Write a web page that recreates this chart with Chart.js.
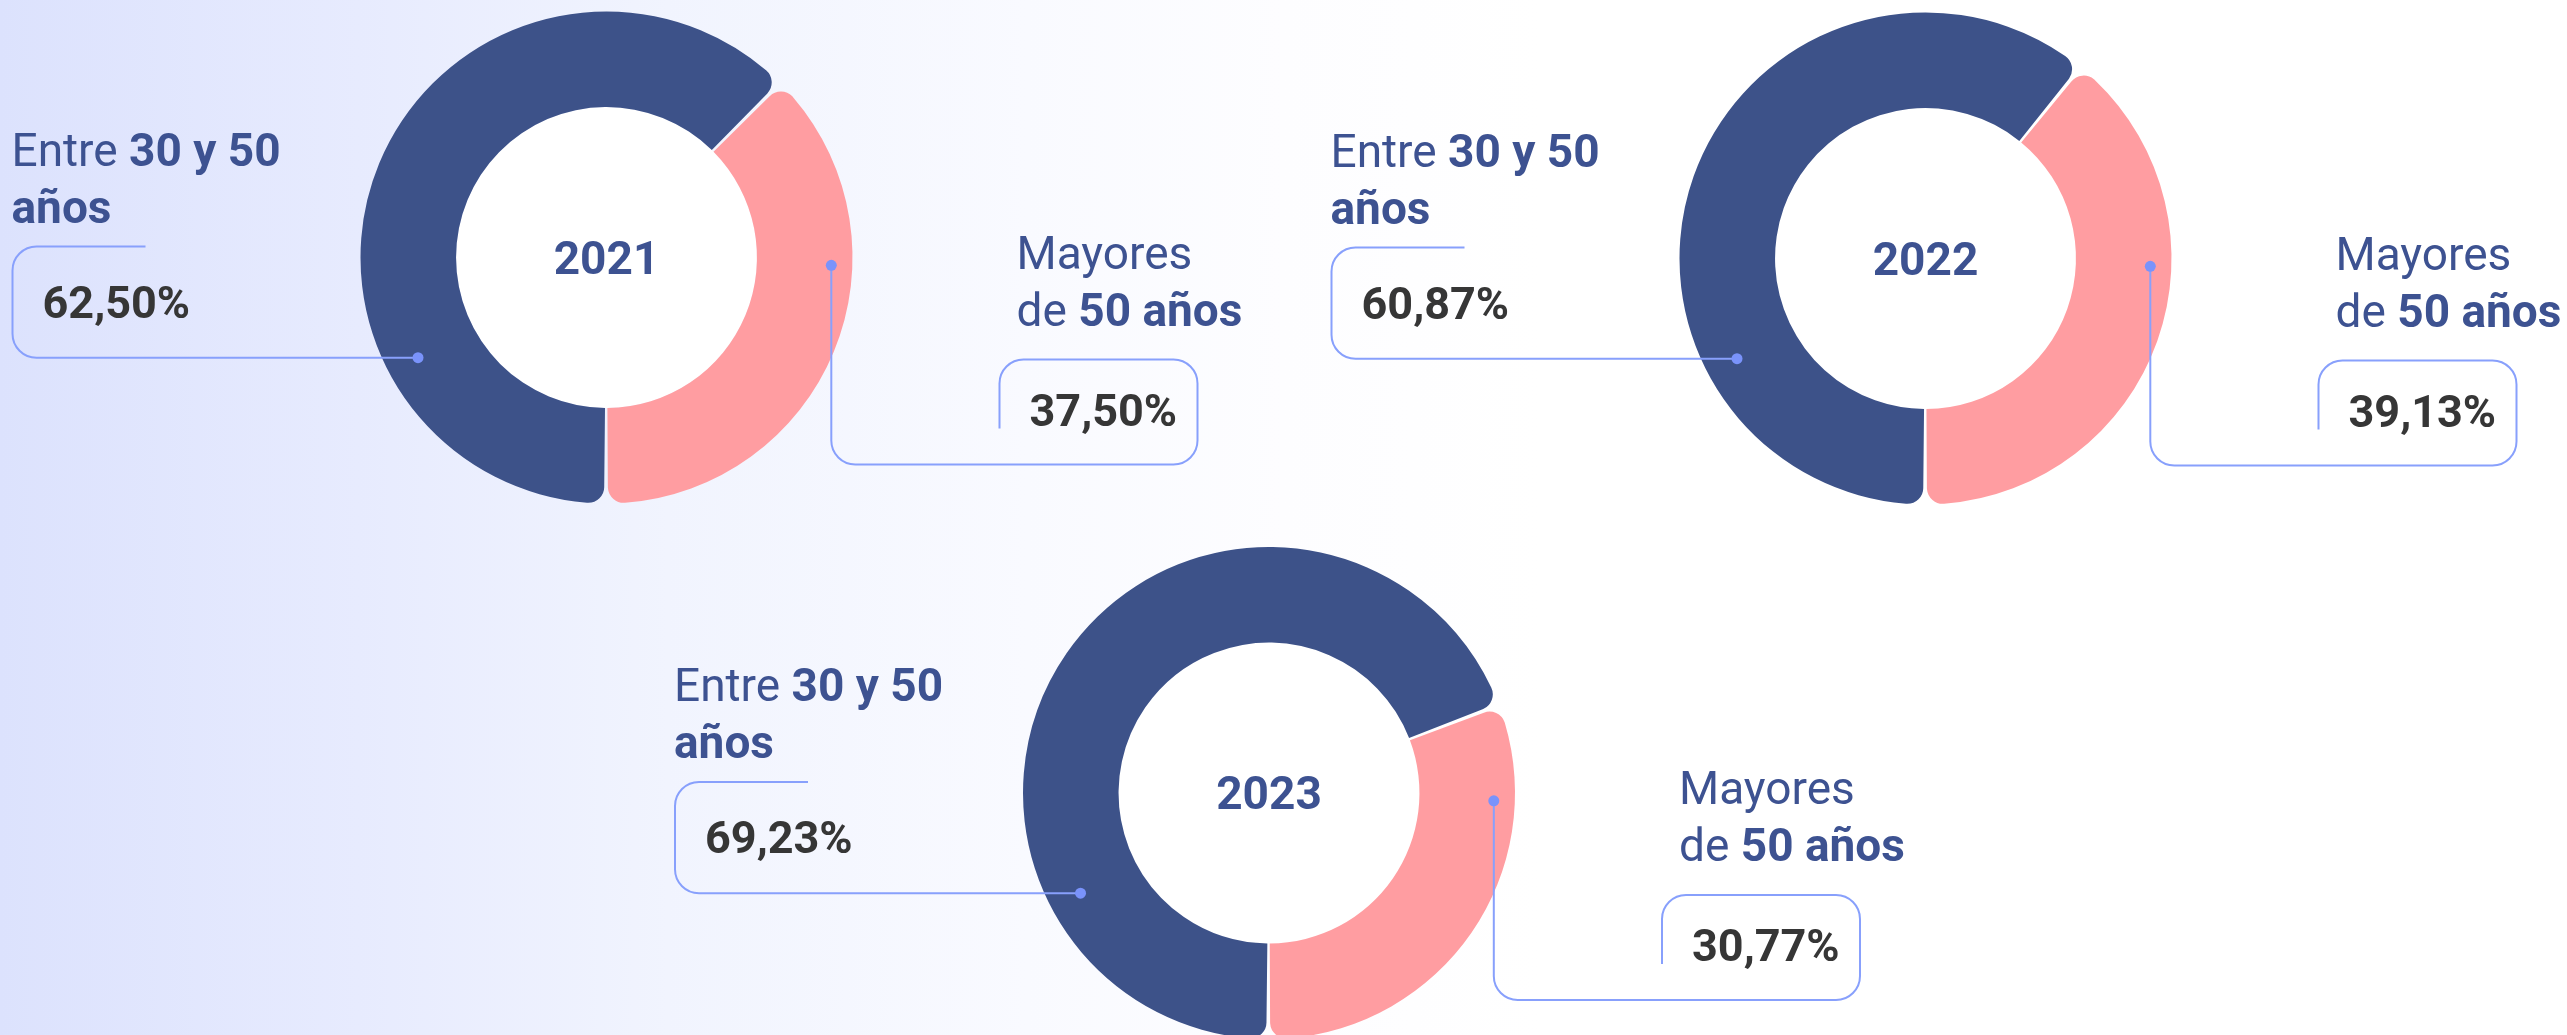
<!DOCTYPE html>
<html lang="es">
<head>
<meta charset="utf-8">
<title>Distribución por edad 2021-2023</title>
<script src="https://cdn.jsdelivr.net/npm/chart.js@4.4.1/dist/chart.umd.min.js"></script>
<style>
  html, body { margin: 0; padding: 0; }
  body {
    width: 2567px; height: 1035px; overflow: hidden; position: relative;
    background: linear-gradient(90deg, #dce2fd 0%, #e7ebfe 14%, #f1f4fe 26%, #f9faff 40%, #fdfdff 50%, #ffffff 60%);
    font-family: Roboto, "Noto Sans", "Liberation Sans", sans-serif;
  }
  .panel { position: absolute; }
  .panel canvas { position: absolute; left: 0; top: 0; }
  .lbl {
    position: absolute; color: #3d5291; font-size: 46px; line-height: 57px;
    white-space: nowrap; font-weight: 400;
  }
  .lbl b { font-weight: 700; }
  .pct {
    position: absolute; color: #363636; font-size: 45px; line-height: 45px;
    font-weight: 700; white-space: nowrap;
  }
  .year {
    position: absolute; color: #3d5291; font-size: 46px; line-height: 46px;
    font-weight: 700; transform: translate(-50%, -50%); white-space: nowrap;
  }
</style>
</head>
<body>
<script>
// ---- data ----
const years = ['2021', '2022', '2023'];
const groups = ['Entre 30 y 50 años', 'Mayores de 50 años'];
const share30to50 = [62.50, 60.87, 69.23];
const shareOver50 = [37.50, 39.13, 30.77];

// rich text for the two group captions (plain part / bold part per line)
const captionYoung = [[['Entre ', false], ['30 y 50', true]], [['años', true]]];
const captionOld = [[['Mayores', false]], [['de ', false], ['50 años', true]]];

// ---- style ----
const COLOR_YOUNG = '#3d5289';
const COLOR_OLD = '#ff9da1';
const LINE_COLOR = '#88a0fc';
const DOT_COLOR = '#7a93fb';

// panel placement on the page and donut centre inside each panel
const panels = [
  { left: 0,    top: 0,   w: 1283, h: 520, cx: 606.5, cy: 257.5 },
  { left: 1283, top: 0,   w: 1284, h: 520, cx: 642.5, cy: 258.5 },
  { left: 600,  top: 520, w: 1300, h: 530, cx: 669,   cy: 273 }
];
const R = 246;

function fmtPct(v) {
  return v.toFixed(2).replace('.', ',') + '%';
}

function polar(cx, cy, r, degFromTop) {
  const a = degFromTop * Math.PI / 180;
  return { x: cx + r * Math.sin(a), y: cy - r * Math.cos(a) };
}

// white hole, connector lines and rounded value frames, anchored to the ring geometry
const connectorPlugin = {
  id: 'connectors',
  beforeDatasetsDraw(chart) {
    const arc = chart.getDatasetMeta(0).data[0];
    if (!arc) return;
    const ctx = chart.ctx;
    ctx.save();
    ctx.fillStyle = '#ffffff';
    ctx.beginPath();
    ctx.arc(arc.x, arc.y, arc.innerRadius + 1, 0, Math.PI * 2);
    ctx.fill();
    ctx.restore();
  },
  afterDatasetsDraw(chart) {
    const arc = chart.getDatasetMeta(0).data[0];
    if (!arc) return;
    const cx = arc.x, cy = arc.y;
    const ri = arc.innerRadius, ro = arc.outerRadius;
    const ctx = chart.ctx;
    const rr = 24;

    const dotL = polar(cx, cy, ri + 0.67 * (ro - ri), 242);
    const dotR = polar(cx, cy, ri + 0.79 * (ro - ri), 92);

    ctx.save();
    ctx.strokeStyle = LINE_COLOR;
    ctx.lineWidth = 2;
    ctx.lineJoin = 'round';

    // left frame: partial top edge, left edge, bottom edge running to the ring
    const lx = cx - 594, ly = cy - 11;
    ctx.beginPath();
    ctx.moveTo(cx - 461, ly);
    ctx.lineTo(lx + rr, ly);
    ctx.arcTo(lx, ly, lx, ly + rr, rr);
    ctx.lineTo(lx, dotL.y - rr);
    ctx.arcTo(lx, dotL.y, lx + rr, dotL.y, rr);
    ctx.lineTo(dotL.x, dotL.y);
    ctx.stroke();

    // right frame: drop from the ring, around the value box
    const by = cy + 207, rx = cx + 591, ty = cy + 102, bx = cx + 393;
    ctx.beginPath();
    ctx.moveTo(dotR.x, dotR.y);
    ctx.lineTo(dotR.x, by - rr);
    ctx.arcTo(dotR.x, by, dotR.x + rr, by, rr);
    ctx.lineTo(rx - rr, by);
    ctx.arcTo(rx, by, rx, by - rr, rr);
    ctx.lineTo(rx, ty + rr);
    ctx.arcTo(rx, ty, rx - rr, ty, rr);
    ctx.lineTo(bx + rr, ty);
    ctx.arcTo(bx, ty, bx, ty + rr, rr);
    ctx.lineTo(bx, cy + 171);
    ctx.stroke();

    ctx.fillStyle = DOT_COLOR;
    [dotL, dotR].forEach(p => {
      ctx.beginPath();
      ctx.arc(p.x, p.y, 5.5, 0, Math.PI * 2);
      ctx.fill();
    });
    ctx.restore();
  }
};

function buildCaption(parts) {
  const div = document.createElement('div');
  div.className = 'lbl';
  parts.forEach((line, i) => {
    if (i > 0) div.appendChild(document.createElement('br'));
    line.forEach(([txt, bold]) => {
      const el = document.createElement(bold ? 'b' : 'span');
      el.textContent = txt;
      div.appendChild(el);
    });
  });
  return div;
}

years.forEach((year, i) => {
  const p = panels[i];
  const wrap = document.createElement('div');
  wrap.className = 'panel';
  wrap.style.left = p.left + 'px';
  wrap.style.top = p.top + 'px';
  wrap.style.width = p.w + 'px';
  wrap.style.height = p.h + 'px';
  document.body.appendChild(wrap);

  const canvas = document.createElement('canvas');
  canvas.width = p.w;
  canvas.height = p.h;
  canvas.style.width = p.w + 'px';
  canvas.style.height = p.h + 'px';
  wrap.appendChild(canvas);

  const chart = new Chart(canvas, {
    type: 'doughnut',
    data: {
      labels: groups,
      datasets: [{
        data: [share30to50[i], shareOver50[i]],
        backgroundColor: [COLOR_YOUNG, COLOR_OLD],
        borderWidth: 0,
        spacing: 2,
        borderRadius: { outerStart: 16, outerEnd: 16, innerStart: 0, innerEnd: 0 },
        hoverOffset: 0,
        clip: false
      }]
    },
    options: {
      responsive: false,
      animation: false,
      events: [],
      rotation: 180,
      cutout: '61%',
      layout: {
        padding: {
          left: p.cx - R,
          right: p.w - p.cx - R,
          top: p.cy - R,
          bottom: p.h - p.cy - R
        }
      },
      plugins: { legend: { display: false }, tooltip: { enabled: false } }
    },
    plugins: [connectorPlugin]
  });

  const arc = chart.getDatasetMeta(0).data[0];
  const cx = arc.x, cy = arc.y;

  // captions and values (positions given by first baseline)
  const capY = buildCaption(captionYoung);
  capY.style.left = (cx - 595) + 'px';
  capY.style.top = (cy - 92 - 44) + 'px';
  wrap.appendChild(capY);

  const capO = buildCaption(captionOld);
  capO.style.left = (cx + 410) + 'px';
  capO.style.top = (cy + 11 - 44) + 'px';
  wrap.appendChild(capO);

  const pY = document.createElement('div');
  pY.className = 'pct';
  pY.textContent = fmtPct(share30to50[i]);
  pY.style.left = (cx - 564) + 'px';
  pY.style.top = (cy + 60 - 38) + 'px';
  wrap.appendChild(pY);

  const pO = document.createElement('div');
  pO.className = 'pct';
  pO.textContent = fmtPct(shareOver50[i]);
  pO.style.left = (cx + 423) + 'px';
  pO.style.top = (cy + 168 - 38) + 'px';
  wrap.appendChild(pO);

  const yr = document.createElement('div');
  yr.className = 'year';
  yr.textContent = year;
  yr.style.left = cx + 'px';
  yr.style.top = cy + 'px';
  wrap.appendChild(yr);
});
</script>
</body>
</html>
